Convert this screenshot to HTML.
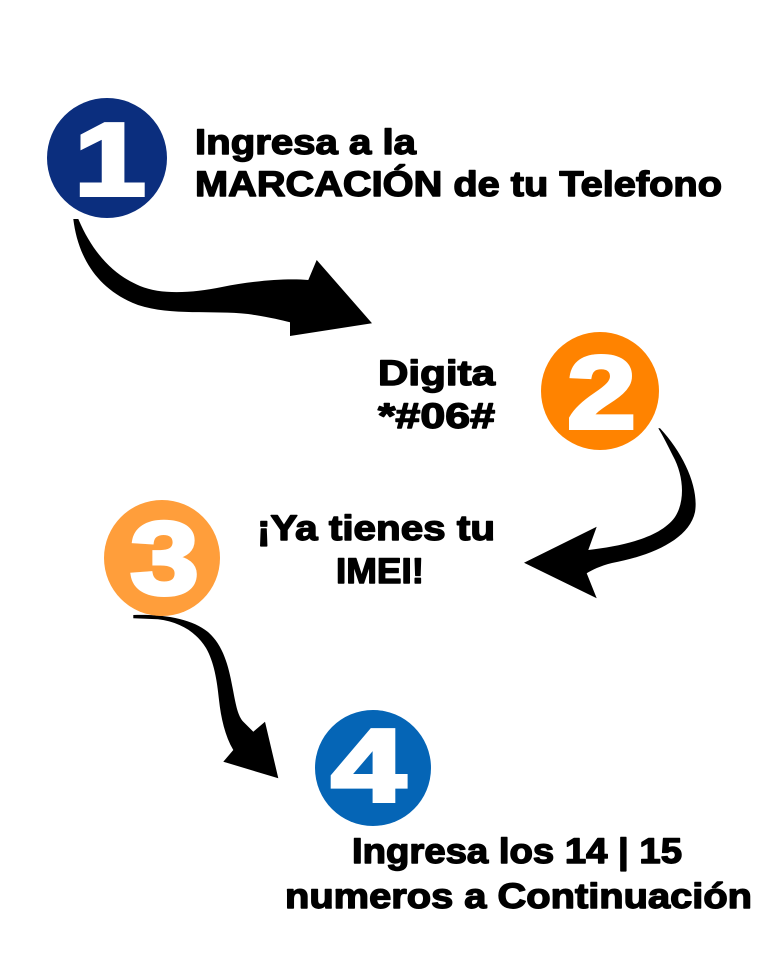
<!DOCTYPE html>
<html>
<head>
<meta charset="utf-8">
<style>
  html, body { margin: 0; padding: 0; background: #ffffff; }
  body { width: 768px; height: 960px; overflow: hidden; }
  svg { display: block; }
  .t { font-family: "Liberation Sans", Arial, sans-serif; font-weight: bold; font-size: 35px; fill: #000; stroke: #000; stroke-width: 1.4px; stroke-linejoin: round; }
  .d { font-family: "Liberation Sans", Arial, sans-serif; font-weight: bold; font-size: 103px; fill: #fff; stroke: #fff; stroke-width: 4px; stroke-linejoin: miter; }
</style>
</head>
<body>
<svg width="768" height="960" viewBox="0 0 768 960" xmlns="http://www.w3.org/2000/svg">
  <rect x="0" y="0" width="768" height="960" fill="#ffffff"/>

  <!-- Arrow 1 -->
  <path fill="#000" d="M73.3,219 C78,258 98,290 138,305 C172,316 212,310 248,314 C268,317 281,320 290,322.3 L290,336 L372,323.3 L316.7,260 L308.3,280 C285,278 252,281 222,287 C192,293 162,295 140,286 C116,276 94,256 78.3,219 Z"/>

  <!-- Arrow 2 -->
  <path fill="#000" d="M660,428.3 C684,454 699,488 695,512 C689,540 650,556 612,563 C600,566 592,570 586.7,573.3 L596.7,598.3 L524,562.7 L596.7,526.7 L588.3,550 C622,546 660,538 675,517 C686,500 683,474 673,456 C668,446 663,436 658.3,428.3 Z"/>

  <!-- Arrow 3 -->
  <path fill="#000" d="M133.3,615 C165,614 192,619 208,632 C224,646 229,668 233,690 C236,706 238,716 243.3,721.7 L253.3,731.7 L265,721.7 L278.3,778.3 L223.3,761.7 L233.3,750 C225,736 221,718 219,700 C217,680 214,662 206,648 C196,632 180,622 158,619.3 L133.3,618.3 Z"/>

  <!-- Circles -->
  <circle cx="107" cy="158" r="60" fill="#0b2e7e"/>
  <circle cx="600" cy="391" r="59" fill="#ff8300"/>
  <circle cx="162" cy="558" r="58" fill="#ff9e3b"/>
  <circle cx="373" cy="768" r="58" fill="#0565b6"/>

  <!-- Digits -->
  <text class="d" text-anchor="middle" transform="translate(110,195) scale(1.25,1)">1</text>
  <text class="d" text-anchor="middle" transform="translate(601.5,428) scale(1.2,1)">2</text>
  <text class="d" text-anchor="middle" transform="translate(164.5,594) scale(1.2,1)">3</text>
  <text class="d" text-anchor="middle" transform="translate(368.5,801) scale(1.3,1)">4</text>

  <!-- Texts -->
  <text class="t" x="195" y="154" textLength="221" lengthAdjust="spacingAndGlyphs">Ingresa a la</text>
  <text class="t" x="195" y="196" textLength="527" lengthAdjust="spacingAndGlyphs">MARCACIÓN de tu Telefono</text>

  <text class="t" x="378" y="385" textLength="117" lengthAdjust="spacingAndGlyphs">Digita</text>
  <text class="t" x="378" y="428" textLength="117" lengthAdjust="spacingAndGlyphs">*#06#</text>

  <text class="t" x="257" y="540" textLength="238" lengthAdjust="spacingAndGlyphs">¡Ya tienes tu</text>
  <text class="t" x="336" y="583" textLength="88" lengthAdjust="spacingAndGlyphs">IMEI!</text>

  <text class="t" x="352" y="863" textLength="330" lengthAdjust="spacingAndGlyphs">Ingresa los 14 | 15</text>
  <text class="t" x="285" y="908" textLength="467" lengthAdjust="spacingAndGlyphs">numeros a Continuación</text>
</svg>
</body>
</html>
